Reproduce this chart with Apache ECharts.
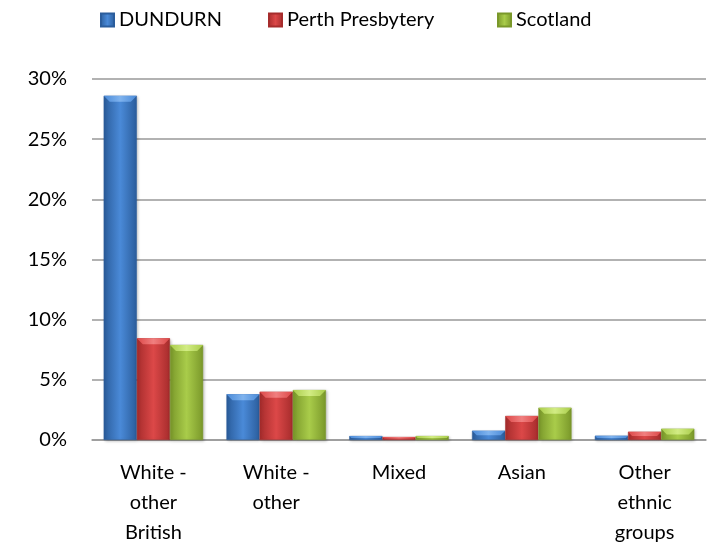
<!DOCTYPE html>
<html><head><meta charset="utf-8">
<script src="https://cdn.jsdelivr.net/npm/echarts@6/dist/echarts.min.js"></script>
<style>html,body{margin:0;padding:0;background:#fff}#c{width:714px;height:548px}</style>
</head><body><div id="c"></div>
<script>
const categories = ['White -\nother\nBritish', 'White -\nother', 'Mixed', 'Asian', 'Other\nethnic\ngroups'];
const seriesNames = ['DUNDURN', 'Perth Presbytery', 'Scotland'];
const dundurn = [28.6, 3.8, 0.33, 0.77, 0.35];
const perth = [8.45, 4.0, 0.25, 2.0, 0.68];
const scotland = [7.9, 4.15, 0.33, 2.68, 0.93];
const yTicks = [0, 5, 10, 15, 20, 25, 30];

const palettes = [
  ['#2b5d9c', '#4a8ad8', '#2b5d9c', '#7fb3ee'],
  ['#a62c2c', '#dc4848', '#a62c2c', '#f07f7f'],
  ['#7a982a', '#a9cc4a', '#7a982a', '#d2ec84']
];
function grad(p) {
  return new echarts.graphic.LinearGradient(0, 0, 1, 0, [
    {offset: 0, color: p[0]}, {offset: 0.5, color: p[1]}, {offset: 1, color: p[2]}
  ]);
}
const values = [dundurn, perth, scotland];
const font = 'Lato, "Open Sans", sans-serif';
const GAP = 0.19;
const legendLefts = [100, 268, 497];

const bevelSeries = values.map((vals, s) => ({
  type: 'custom', silent: true, z: 5,
  data: vals.map((v, i) => [i, v]),
  renderItem: function (params, api) {
    const cat = api.value(0), v = api.value(1);
    const top = api.coord([cat, v]);
    const base = api.coord([cat, 0]);
    const band = api.size([1, 0])[0];
    const w = band * (1 - GAP) / 3;
    const x0 = top[0] - 1.5 * w + s * w;
    const h = base[1] - top[1];
    const d = Math.min(6, h / 2, w / 4);
    return {
      type: 'polygon',
      shape: {points: [[x0, top[1]], [x0 + w, top[1]], [x0 + w - d, top[1] + d], [x0 + d, top[1] + d]]},
      style: {fill: new echarts.graphic.LinearGradient(0, 0, 1, 0, [
        {offset: 0, color: palettes[s][1]}, {offset: 0.5, color: palettes[s][3]}, {offset: 1, color: palettes[s][1]}
      ])}
    };
  }
}));

const chart = echarts.init(document.getElementById('c'));
chart.setOption({
  animation: false,
  textStyle: {fontFamily: font},
  legend: seriesNames.map((n, i) => ({
    top: 10, left: legendLefts[i], padding: 0, itemWidth: 13, itemHeight: 13, icon: 'rect', itemGap: 0,
    textStyle: {fontSize: 20, color: '#000', fontFamily: font},
    data: [n]
  })),
  grid: {left: 92, right: 8, top: 79, bottom: 107},
  xAxis: {
    type: 'category', data: categories,
    axisLine: {lineStyle: {color: '#999', width: 1.5}},
    axisTick: {show: false},
    axisLabel: {color: '#000', fontSize: 20, lineHeight: 30, margin: 18, interval: 0, fontFamily: font}
  },
  yAxis: {
    type: 'value', min: 0, max: 30, interval: 5,
    axisLine: {show: false}, axisTick: {show: false},
    axisLabel: {formatter: '{value}%', color: '#000', fontSize: 20, margin: 25, fontFamily: font},
    splitLine: {lineStyle: {color: '#999', width: 1.5}}
  },
  series: seriesNames.map((n, i) => ({
    name: n, type: 'bar', data: values[i],
    barGap: '0%', barCategoryGap: (GAP * 100) + '%',
    itemStyle: {color: grad(palettes[i]), borderColor: palettes[i][0], borderWidth: 0.5,
      shadowColor: 'rgba(0,0,0,0.25)', shadowBlur: 3, shadowOffsetX: 1, shadowOffsetY: 1}
  })).concat(bevelSeries)
});
</script></body></html>
